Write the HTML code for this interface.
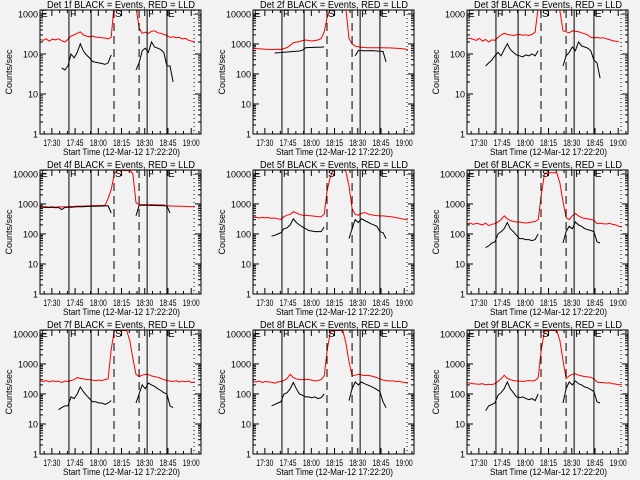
<!DOCTYPE html>
<html><head><meta charset="utf-8"><style>
html,body{margin:0;padding:0;background:#f2f2f2;}
svg{display:block;}
text{font-family:"Liberation Sans",sans-serif;fill:#000;}
</style></head><body>
<svg id="chart" width="640" height="480" viewBox="0 0 640 480" xmlns="http://www.w3.org/2000/svg">
<rect x="0" y="0" width="640" height="480" fill="#f2f2f2"/>
</svg>
<script>
// time grid: minutes after 17:22:20
const times = [0,2,4,6,8,10,12,14,16,18,20,22,24,26,28,30,32,34,36,38,40,42,44,46,48,50,52,54,56,58,60,62,64,66,68,70,72,74,76,78,80,82,84,86,88,90,92,94,96,98,100];
const N = null;
const xTickLabels = ["17:30","17:45","18:00","18:15","18:30","18:45","19:00"];
const xTickTimes = [7.67,22.67,37.67,52.67,67.67,82.67,97.67];
const markerTimes = [18.7,33,47.8,64,69.2,82,99.5];
const markerStyles = ["solid","solid","dash","dash","solid","solid","dot"];
const markerLetters = ["F","","S","","F","E",""];
const panelNames = ["Det 1f","Det 2f","Det 3f","Det 4f","Det 5f","Det 6f","Det 7f","Det 8f","Det 9f"];
const panelYMax = [1260,13500,1260,13500,13500,13500,13500,13500,13500];

const red1 = [230,220,240,210,235,225,240,215,200,230, 280,300,330,360,300,280,270, 280,265,260,255,250,240,260, 2000,5000,5000,5000,5000,5000,5000, 1500,450,330,350,330,370,380,340,330,310,290,260,270,255,260,240,245,220,210,200];
const blk1 = [N,N,N,N,N,N,N,45,40,50, 100,80,110,180,120,95,80,65,62,60,58,55,60,95, N,N,N,N,N,N,N, 40,60,120,140,110,200,150,140,130,110,50,50,20, N,N,N,N,N,N,N];
const red2 = [720,700,690,680,670,660,650,660,670,660, 700,760,900,1100,1150,1200,1300, 1350,1300,1250,1300,1350,1500,2500, 8000,15000,15000,15000,15000,15000,15000, 1500,1000,850,800,780,760,750,750,750,750,750,750,740,740,730,720,710,700,680,650];
const blk2 = [N,N,N,N,N,N,N,500,510,520, 530,540,550,560,570,580,620,750,760,760,770,770,780,800, N,N,N,N,N,N,N, N,N,400,600,600,590,590,600,590,580,570,560,250, N,N,N,N,N,N,N];
const red3 = [240,250,230,220,245,210,230,200,225,220, 260,300,330,310,300,290,300,310,295,300,290,310,350, 1500,5000,5000,5000,5000,5000,5000, 1200,380,360,340,380,370,360,340,320,300,260,255,260,250,255,240,230,215,210,200];
const blk3 = [N,N,N,N,N,N,50,60,70,90, 110,90,130,180,130,110,95,90,85,95,90,100,90,120, N,N,N,N,N,N,N, 50,90,110,150,120,200,160,150,140,120,70,60,25, N,N,N,N,N,N,N];
const red4 = [820,800,810,790,800,780,800,790,800,810, 820,830,840,850,850,860,870,880,880,890,890,900,1500,3000, 10000,13000,13000,13000,13000,13000,10000, 1100,950,950,950,940,950,940,930,930,920,850,860,850,850,840,840,830,820,810,800];
const blk4 = [780,770,760,760,770,750,760,650,760,770, 780,790,800,810,810,820,830,840,840,850,850,860,870,500, N,N,N,N,N,N,N, 400,900,910,900,900,890,890,880,880,870,860,500,N, N,N,N,N,N,N,N];
const red5 = [350,360,340,355,345,350,330,340,320,300, 380,420,450,550,500,450,420, 420,410,400,390,380,370,450, 3000,8000,15000,15000,15000,15000,12000, 4000,700,450,420,480,520,470,440,420,410,400,400,390,380,370,350,340,320,310,290];
const blk5 = [N,N,N,N,N,N,85,90,100,110, 150,160,200,320,240,200,170,150,130,125,120,120,120,170, N,N,N,N,N,N,N, 70,150,300,240,320,280,250,220,200,180,120,110,70, N,N,N,N,N,N,N];
const red6 = [220,230,210,225,215,200,230,190,210,220, 250,300,400,320,280,260,250,250,240,230,240,250,260,300, 2000,10000,11000,11000,11000,11000,5000, 1200,350,300,400,480,400,350,330,320,300,290,220,230,220,215,225,210,200,180,170];
const blk6 = [N,N,N,N,N,N,35,40,50,55, 100,120,150,240,150,120,90,70,70,65,65,60,65,100, N,N,N,N,N,N,N, 50,120,180,150,250,200,180,150,140,130,120,55,50, N,N,N,N,N,N,N];
const red7 = [270,260,280,250,275,260,265,240,270,260, 280,300,350,330,320,300,300,290,280,290,280,300,320, 3000,13000,13000,13000,13000,13000,6000, 1500,450,380,420,450,440,400,380,360,330,300,280,270,260,275,250,265,255,270,240,250];
const blk7 = [N,N,N,N,N,N,30,35,40,40, 80,70,100,170,120,90,70,55,55,50,50,45,50,60, N,N,N,N,N,N,N, 50,100,200,150,230,200,180,150,130,110,100,40,35, N,N,N,N,N,N,N];
const red8 = [260,250,270,240,260,250,245,230,250,260, 280,330,450,350,320,300,300,310,300,290,270,280,300,400, 3000,12000,13000,13000,13000,13000,5000, 1200,400,420,450,430,410,420,400,380,350,320,290,280,270,275,260,265,250,240,230];
const blk8 = [N,N,N,N,N,N,40,45,50,55, 100,110,150,240,150,100,90,80,80,75,80,70,75,100, N,N,N,N,N,N,N, 60,150,250,200,250,220,200,180,160,140,120,55,35, N,N,N,N,N,N,N];
const red9 = [240,230,220,215,210,220,200,210,205,220, 260,320,420,330,300,280,270,270,260,270,280,270,280,350, 3000,12000,13000,13000,13000,13000,6000, 1300,330,400,450,470,420,400,380,370,360,320,250,240,240,230,235,220,215,200,210];
const blk9 = [N,N,N,N,N,N,28,40,45,50, 90,110,150,250,150,110,80,75,80,70,65,70,60,100, N,N,N,N,N,N,N, 50,150,250,200,270,220,200,170,160,140,120,55,50, N,N,N,N,N,N,N];
const redSeries = [red1,red2,red3,red4,red5,red6,red7,red8,red9];
const blackSeries = [blk1,blk2,blk3,blk4,blk5,blk6,blk7,blk8,blk9];

const svg = document.getElementById('chart');
const NS = 'http://www.w3.org/2000/svg';
function mk(tag, attrs, parent){const e=document.createElementNS(NS,tag);for(const k in attrs)e.setAttribute(k,attrs[k]);parent.appendChild(e);return e;}

const BOX_L = 40, BOX_R = 201, BOX_T = 10, BOX_B = 134, TMAX = 104;

for(let p=0;p<9;p++){
  const col=p%3,row=Math.floor(p/3);
  const ox=Math.round(col*213.33), oy=row*160;
  const g=mk('g',{transform:`translate(${ox},${oy})`},svg);
  
  
  const ymax=panelYMax[p];
  const lmax=Math.log10(ymax);
  const xs=t=>BOX_L+t*(BOX_R-BOX_L)/TMAX;
  const ys=v=>BOX_B-Math.log10(v)/lmax*(BOX_B-BOX_T);
  const cid='clip'+p;
  const cp=mk('clipPath',{id:cid},g);
  mk('rect',{x:BOX_L,y:BOX_T,width:BOX_R-BOX_L,height:BOX_B-BOX_T},cp);

  const tt=mk('text',{x:47,y:8,'font-size':'10',textLength:'148',lengthAdjust:'spacingAndGlyphs'},g);
  tt.textContent=panelNames[p]+' BLACK = Events, RED = LLD';
  
  

  const decades=[1,10,100,1000,10000].filter(v=>v<=ymax*1.01);
  decades.forEach(v=>{
    const y=ys(v);
    mk('line',{x1:BOX_L,x2:BOX_L+6,y1:y,y2:y,stroke:'#000'},g);
    mk('line',{x1:BOX_R,x2:BOX_R-6,y1:y,y2:y,stroke:'#000'},g);
    const s=String(v);
    const lb=mk('text',{x:BOX_L-2-s.length*5,y:y+3.5,'font-size':'9',textLength:String(s.length*5),lengthAdjust:'spacingAndGlyphs'},g);
    lb.textContent=s;
    
    
    for(let m=2;m<10;m++){const mv=v*m;if(mv>ymax)break;const my=ys(mv);
      mk('line',{x1:BOX_L,x2:BOX_L+3,y1:my,y2:my,stroke:'#000'},g);
      mk('line',{x1:BOX_R,x2:BOX_R-3,y1:my,y2:my,stroke:'#000'},g);}
  });
  const yl=mk('text',{x:0,y:0,'font-size':'9','text-anchor':'middle',transform:`translate(12,72) rotate(-90)`},g);
  yl.textContent='Counts/sec';
  
  

  xTickTimes.forEach((t,i)=>{
    const x=xs(t);
    mk('line',{x1:x,x2:x,y1:BOX_B,y2:BOX_B-6,stroke:'#000'},g);
    mk('line',{x1:x,x2:x,y1:BOX_T,y2:BOX_T+6,stroke:'#000'},g);
    for(let k=1;k<3;k++){const mx=xs(t+5*k);if(mx<BOX_R){
      mk('line',{x1:mx,x2:mx,y1:BOX_B,y2:BOX_B-3,stroke:'#000'},g);
      mk('line',{x1:mx,x2:mx,y1:BOX_T,y2:BOX_T+3,stroke:'#000'},g);}}
    const lb=mk('text',{x:x-8.5,y:146,'font-size':'9',textLength:'17',lengthAdjust:'spacingAndGlyphs'},g);
    lb.textContent=xTickLabels[i];
    
    
  });
  {const mx=xs(2.67);mk('line',{x1:mx,x2:mx,y1:BOX_B,y2:BOX_B-3,stroke:'#000'},g);}
  const xl=mk('text',{x:63,y:155,'font-size':'9.5',textLength:'117',lengthAdjust:'spacingAndGlyphs'},g);
  xl.textContent='Start Time (12-Mar-12 17:22:20)';
  
  

  function path(arr){let d='',pen=false;
    arr.forEach((v,i)=>{if(v===null){pen=false;return;}
      const x=xs(times[i]).toFixed(1),y=ys(v).toFixed(1);d+=(pen?'L':'M')+x+','+y;pen=true;});return d;}
  const rp=mk('path',{d:path(redSeries[p]),fill:'none',stroke:'#ff0000','stroke-width':'1','clip-path':`url(#${cid})`},g);
  
  
  const bp=mk('path',{d:path(blackSeries[p]),fill:'none',stroke:'#000','stroke-width':'1','clip-path':`url(#${cid})`},g);
  
  

  markerTimes.forEach((t,i)=>{
    const x=xs(t);
    const st=markerStyles[i];
    const a={x1:x,x2:x,y1:BOX_T,y2:BOX_B,stroke:'#000','stroke-width':'1'};
    if(st==='dash')a['stroke-dasharray']='8,5';
    if(st==='dot')a['stroke-dasharray']='1,3';
    const ln=mk('line',a,g);
    
    
    if(markerLetters[i]){const lt=mk('text',{x:x+1,y:BOX_T+7,'font-size':'10'},g);
      lt.textContent=markerLetters[i];
      
      }
  });
  const le=mk('text',{x:BOX_L+1,y:BOX_T+7,'font-size':'10'},g);
  le.textContent='E';
  
  

  const box=mk('rect',{x:BOX_L,y:BOX_T,width:BOX_R-BOX_L,height:BOX_B-BOX_T,fill:'none',stroke:'#000','stroke-width':'1'},g);
  
  
}
</script>
</body></html>
